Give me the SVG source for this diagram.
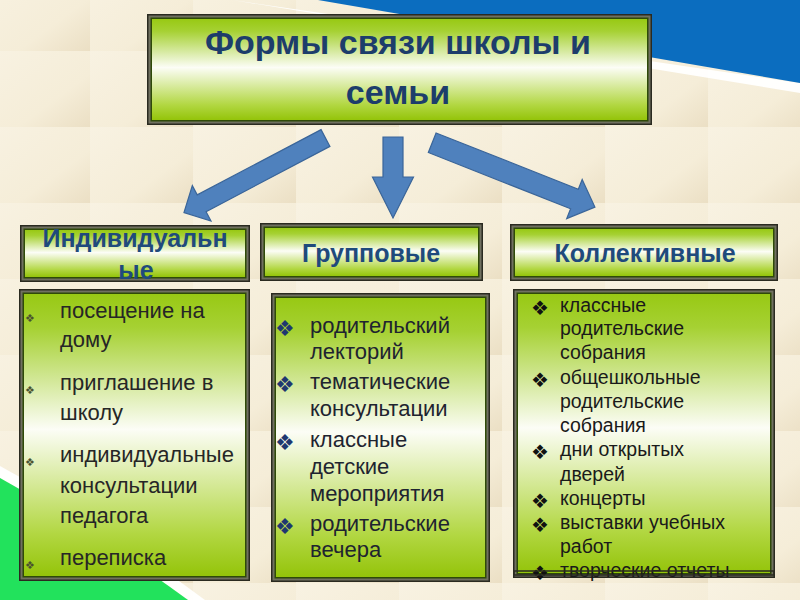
<svg xmlns="http://www.w3.org/2000/svg" width="800" height="600" viewBox="0 0 800 600">
<defs>
<linearGradient id="tileG" x1="0" y1="0" x2="1" y2="1">
<stop offset="0" stop-color="#f8f2e2"/>
<stop offset="0.65" stop-color="#f5edd8"/>
<stop offset="1" stop-color="#ebdfc4"/>
</linearGradient>
<pattern id="tiles" patternUnits="userSpaceOnUse" x="90" y="51" width="103" height="76">
<rect width="103" height="76" fill="url(#tileG)"/>
</pattern>
<linearGradient id="lime" x1="0" y1="0" x2="0" y2="1">
<stop offset="0" stop-color="#98c914"/>
<stop offset="0.12" stop-color="#a6d133"/>
<stop offset="0.48" stop-color="#fcfdf6"/>
<stop offset="0.85" stop-color="#b2d742"/>
<stop offset="1" stop-color="#94c40a"/>
</linearGradient>
<style>
.f0{fill:#2a2a20}
.f1{fill:#707060}
.f2{fill:#2f4a08}
.fill{fill:url(#lime)}
.frameTop{fill:none;stroke:#2a2a20;stroke-width:1.5}
.title{font-family:"Liberation Sans",Arial,sans-serif;font-weight:bold;font-size:34px;fill:#1d3d6b;text-anchor:middle}
.head{font-family:"Liberation Sans",Arial,sans-serif;font-weight:bold;font-size:25px;fill:#1f4a7c;text-anchor:middle}
.t1{font-family:"Liberation Sans",Arial,sans-serif;font-size:22px;fill:#262626}
.t2{font-family:"Liberation Sans",Arial,sans-serif;font-size:22px;fill:#1e2430}
.t3{font-family:"Liberation Sans",Arial,sans-serif;font-size:19.5px;fill:#1a1a1a}
.b1{font-family:"DejaVu Sans",sans-serif;font-size:11px;fill:#4a5230}
.b2{font-family:"DejaVu Sans",sans-serif;font-size:22px;fill:#1f3770}
.b3{font-family:"DejaVu Sans",sans-serif;font-size:20px;fill:#111111}
.arrow{fill:#4f81bd;stroke:#3a6599;stroke-width:1.2;stroke-linejoin:miter}
</style>
</defs>

<!-- background -->
<rect width="800" height="600" fill="#f4ebd5"/>
<rect width="800" height="600" fill="url(#tiles)"/>
<polygon points="232,0 800,83 800,93" fill="#ffffff" opacity="0.95"/>
<polygon points="318,0 800,0 800,83" fill="#0b6dbf"/>
<path d="M0,466 Q90,515 205,600 L188,600 Q85,525 0,478 Z" fill="#ffffff" opacity="0.95"/>
<path d="M0,478 Q85,525 188,600 L0,600 Z" fill="#22e25c"/>

<!-- title node -->
<g id="title">
<rect class="f0" x="147" y="14" width="505" height="111"/>
<rect class="f1" x="148.5" y="15.5" width="502" height="108"/>
<rect class="f2" x="150.5" y="17.5" width="498" height="104"/>
<rect class="fill" x="152" y="19" width="495" height="101"/>
<text class="title" x="398" y="54">Формы связи школы и</text>
<text class="title" x="398" y="104">семьи</text>
</g>

<!-- connectors -->
<g id="connectors">
<polygon class="arrow" transform="translate(325.5,138) rotate(152.2)" points="0,-9.5 140,-9.5 140,-20 160,0 140,20 140,9.5 0,9.5"/>
<polygon class="arrow" transform="translate(393,137) rotate(90)" points="0,-10 40,-10 40,-20.5 81,0 40,20.5 40,10 0,10"/>
<polygon class="arrow" transform="translate(432.2,142.7) rotate(21.6)" points="0,-10.5 153,-10.5 153,-21 175,0 153,21 153,10.5 0,10.5"/>
</g>

<!-- header nodes -->
<g id="head-individual">
<rect class="f0" x="20" y="225" width="230" height="57"/>
<rect class="f1" x="21.5" y="226.5" width="227" height="54"/>
<rect class="f2" x="23.5" y="228.5" width="223" height="50"/>
<rect class="fill" x="25" y="230" width="220" height="47"/>
<text class="head" x="135" y="247">Индивидуальн</text>
<text class="head" x="136" y="279">ые</text>
</g>
<g id="head-group">
<rect class="f0" x="260" y="223" width="223" height="58"/>
<rect class="f1" x="261.5" y="224.5" width="220" height="55"/>
<rect class="f2" x="263.5" y="226.5" width="216" height="51"/>
<rect class="fill" x="265" y="228" width="213" height="48"/>
<text class="head" x="371" y="262">Групповые</text>
</g>
<g id="head-collective">
<rect class="f0" x="510" y="224" width="268" height="57"/>
<rect class="f1" x="511.5" y="225.5" width="265" height="54"/>
<rect class="f2" x="513.5" y="227.5" width="261" height="50"/>
<rect class="fill" x="515" y="229" width="258" height="47"/>
<text class="head" x="645" y="262">Коллективные</text>
</g>

<!-- list nodes -->
<g id="list-individual">
<rect class="f0" x="19" y="289" width="231" height="292"/>
<rect class="f1" x="20.5" y="290.5" width="228" height="289"/>
<rect class="f2" x="22.5" y="292.5" width="224" height="285"/>
<rect class="fill" x="24" y="294" width="221" height="282"/>
<text class="b1" x="25" y="322">❖</text>
<text class="b1" x="25" y="394">❖</text>
<text class="b1" x="25" y="466">❖</text>
<text class="b1" x="25" y="569">❖</text>
<text class="t1" x="60" y="318">посещение на</text>
<text class="t1" x="60" y="347">дому</text>
<text class="t1" x="60" y="390">приглашение в</text>
<text class="t1" x="60" y="420">школу</text>
<text class="t1" x="60" y="462">индивидуальные</text>
<text class="t1" x="60" y="493">консультации</text>
<text class="t1" x="60" y="523">педагога</text>
<text class="t1" x="60" y="565">переписка</text>
</g>
<g id="list-group">
<rect class="f0" x="271" y="293" width="219" height="289"/>
<rect class="f1" x="272.5" y="294.5" width="216" height="286"/>
<rect class="f2" x="274.5" y="296.5" width="212" height="282"/>
<rect class="fill" x="276" y="298" width="209" height="279"/>
<text class="b2" x="275" y="336">❖</text>
<text class="b2" x="275" y="392">❖</text>
<text class="b2" x="275" y="450">❖</text>
<text class="b2" x="275" y="534">❖</text>
<text class="t2" x="310" y="333">родительский</text>
<text class="t2" x="310" y="359">лекторий</text>
<text class="t2" x="310" y="389">тематические</text>
<text class="t2" x="310" y="416">консультации</text>
<text class="t2" x="310" y="447">классные</text>
<text class="t2" x="310" y="474">детские</text>
<text class="t2" x="310" y="501">мероприятия</text>
<text class="t2" x="310" y="531">родительские</text>
<text class="t2" x="310" y="557">вечера</text>
</g>
<g id="list-collective">
<rect class="f0" x="513" y="289" width="262" height="289"/>
<rect class="f1" x="514.5" y="290.5" width="259" height="286"/>
<rect class="f2" x="516.5" y="292.5" width="255" height="282"/>
<rect class="fill" x="518" y="294" width="252" height="279"/>
<text class="b3" x="531" y="315">❖</text>
<text class="b3" x="531" y="387">❖</text>
<text class="b3" x="531" y="459">❖</text>
<text class="b3" x="531" y="508">❖</text>
<text class="b3" x="531" y="532">❖</text>
<text class="b3" x="531" y="580">❖</text>
<text class="t3" x="560" y="312">классные</text>
<text class="t3" x="560" y="335">родительские</text>
<text class="t3" x="560" y="359">собрания</text>
<text class="t3" x="560" y="384">общешкольные</text>
<text class="t3" x="560" y="408">родительские</text>
<text class="t3" x="560" y="432">собрания</text>
<text class="t3" x="560" y="456">дни открытых</text>
<text class="t3" x="560" y="481">дверей</text>
<text class="t3" x="560" y="505">концерты</text>
<text class="t3" x="560" y="529">выставки учебных</text>
<text class="t3" x="560" y="553">работ</text>
<text class="t3" x="560" y="577">творческие отчеты</text>
<rect class="frameTop" x="514" y="571" width="260" height="4"/>
</g>
</svg>
